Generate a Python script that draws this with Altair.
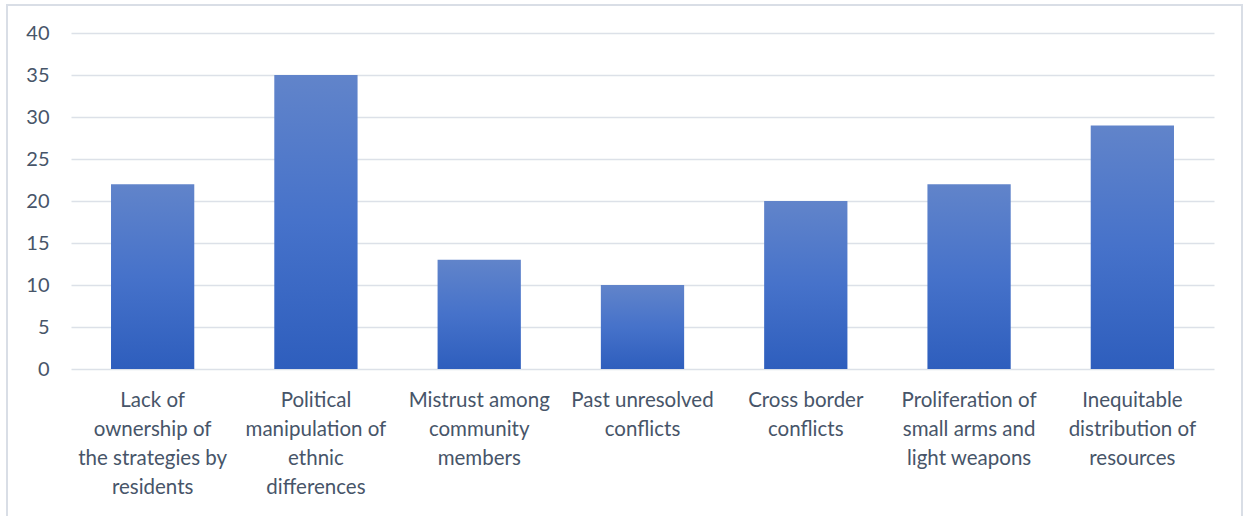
import altair as alt
import pandas as pd

categories = [
    "Lack of\nownership of\nthe strategies by\nresidents",
    "Political\nmanipulation of\nethnic\ndifferences",
    "Mistrust among\ncommunity\nmembers",
    "Past unresolved\nconflicts",
    "Cross border\nconflicts",
    "Proliferation of\nsmall arms and\nlight weapons",
    "Inequitable\ndistribution of\nresources",
]
values = [22, 35, 13, 10, 20, 22, 29]

df = pd.DataFrame({"cat": categories, "val": values})

grad = {
    "gradient": "linear",
    "x1": 0, "y1": 0, "x2": 0, "y2": 1,
    "stops": [
        {"offset": 0, "color": "#6184CA"},
        {"offset": 0.5, "color": "#4672CA"},
        {"offset": 1, "color": "#2E5EBD"},
    ],
}

txt = "#475569"
font = "Lato"

bars = alt.Chart(df).mark_bar(color=grad).encode(
    x=alt.X("cat:N", sort=categories, title=None,
            scale=alt.Scale(paddingInner=0.49, paddingOuter=0.245),
            axis=alt.Axis(labelAngle=0, ticks=False, domain=False, grid=False,
                          labelExpr="split(datum.label, '\\n')",
                          labelFontSize=20.5, labelLineHeight=29,
                          labelPadding=21, labelColor=txt, labelFont=font,
                          labelBaseline="top", labelLimit=300)),
    y=alt.Y("val:Q", title=None,
            scale=alt.Scale(domain=[0, 40]),
            axis=alt.Axis(values=[0, 5, 10, 15, 20, 25, 30, 35, 40],
                          ticks=False, domain=False, grid=True,
                          gridColor="#DCE1E8", gridWidth=1.5,
                          labelFontSize=20, labelColor=txt, labelFont=font,
                          labelPadding=22)),
)

border = alt.Chart(df).mark_rect(fill=None, stroke="#D9DEE6", strokeWidth=2).encode(
    x=alt.value(-64), x2=alt.value(1171), y=alt.value(-28), y2=alt.value(540)
)

chart = alt.layer(border, bars).properties(
    width=1143, height=336,
    autosize=alt.AutoSizeParams(type="none"),
    padding={"left": 71, "top": 33, "right": 30, "bottom": 147},
    background="white",
).configure_view(stroke=None)

chart.save("out.html", embed_options={"renderer": "svg", "actions": False})
